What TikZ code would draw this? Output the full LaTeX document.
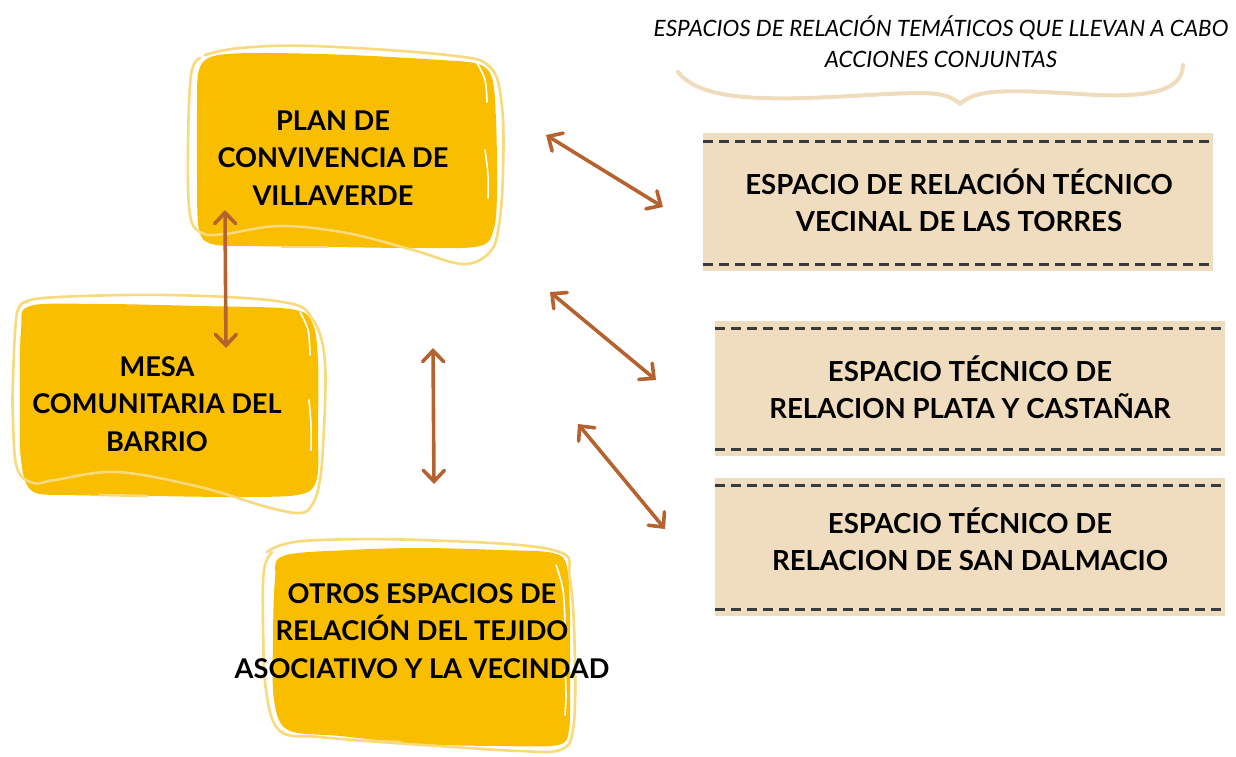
\documentclass[tikz,border=0pt]{standalone}
\usepackage{fontspec}
\setmainfont{Lato}
\usetikzlibrary{arrows.meta}
\definecolor{blobyellow}{HTML}{F9BE00}
\definecolor{blobline}{HTML}{F8DA7C}
\definecolor{beige}{HTML}{F0DDBF}
\definecolor{arrowbrown}{HTML}{B6622F}
\definecolor{dashgrey}{HTML}{3A3A3A}
\definecolor{bracecol}{HTML}{EEDCBD}
\tikzset{
  blobfill/.style={fill=blobyellow, draw=none},
  bloboutline/.style={draw=blobline, line width=2.6pt, line cap=round},
  blobhigh/.style={draw=white, line width=1.6pt, line cap=round},
  blobtext/.style={align=center, font=\fontsize{27.2}{37.5}\selectfont\bfseries, text=black, inner sep=0pt},
  beigebox/.style={fill=beige, draw=none, minimum width=510pt, inner sep=0pt},
  boxtext/.style={align=center, font=\fontsize{27.6}{37}\selectfont\bfseries, text=black, inner sep=0pt},
  dashline/.style={draw=dashgrey, line width=3pt, dash pattern=on 10pt off 6pt},
  dblarrow/.style={draw=arrowbrown, line width=3.6pt, line cap=round,
    {Straight Barb[length=11pt,width=21pt,line cap=round]}-{Straight Barb[length=11pt,width=21pt,line cap=round]}},
  titletext/.style={align=center, font=\fontsize{22.5}{31}\selectfont\itshape, text=black, inner sep=0pt},
}
\begin{document}
\begin{tikzpicture}[x=1pt,y=-1pt]
\useasboundingbox[fill=white] (0,0) rectangle (1236,756);

% ---------- title and brace ----------
\node[titletext] (title) at (941,41.5) {ESPACIOS DE RELACIÓN TEMÁTICOS QUE LLEVAN A CABO\\ACCIONES CONJUNTAS};
\draw[draw=bracecol, line width=4pt, line cap=round, line join=round]
  (678,72) .. controls (700,100) and (760,101) .. (850,96)
  .. controls (925,92) and (945,90) .. (960,104)
  .. controls (975,90) and (1000,89) .. (1080,94)
  .. controls (1165,100) and (1182,85) .. (1183,65);

% ---------- beige boxes ----------
\node[beigebox, minimum height=138pt] (b1) at (958,202) {};
\node[beigebox, minimum height=135pt] (b2) at (970,388) {};
\node[beigebox, minimum height=138pt] (b3) at (970,547) {};
\draw[dashline] ([yshift=-9pt]b1.north west) -- ([yshift=-9pt]b1.north east);
\draw[dashline] ([yshift=7pt]b1.south west) -- ([yshift=7pt]b1.south east);
\draw[dashline] ([yshift=-8pt]b2.north west) -- ([yshift=-8pt]b2.north east);
\draw[dashline] ([yshift=6pt]b2.south west) -- ([yshift=6pt]b2.south east);
\draw[dashline] ([yshift=-8pt]b3.north west) -- ([yshift=-8pt]b3.north east);
\draw[dashline] ([yshift=7pt]b3.south west) -- ([yshift=7pt]b3.south east);
\node[boxtext] (t1) at (959,200) {ESPACIO DE RELACIÓN TÉCNICO\\VECINAL DE LAS TORRES};
\node[boxtext] (t2) at (970,387) {ESPACIO TÉCNICO DE\\RELACION PLATA Y CASTAÑAR};
\node[boxtext] (t3) at (970,539.5) {ESPACIO TÉCNICO DE\\RELACION DE SAN DALMACIO};

% ---------- yellow blob 1 ----------
\fill[blobfill] plot[smooth cycle, tension=0.55] coordinates {
  (214,56) (260,53) (350,55) (440,60) (478,64) (492,78) (496,120) (497,190)
  (494,228) (480,246) (420,248) (330,247) (250,246) (212,244) (199,230)
  (197,180) (197,110) (199,70)};
\draw[bloboutline] plot[smooth, tension=0.6] coordinates {
  (205,55) (240,48) (313,46) (447,55) (490,67) (502,107) (503,173) (499,225)
  (490,252) (463,264) (413,250) (347,233) (280,226) (225,234) (202,233)
  (190,215) (188,150) (191,75) (200,58)};
\draw[bloboutline] (282,247) -- (327,247);
\draw[blobhigh] plot[smooth, tension=0.6] coordinates {(477,63) (485,80) (487,102)};
\draw[blobhigh] plot[smooth, tension=0.6] coordinates {(485,150) (488,175) (488,198)};

% ---------- yellow blob 2 ----------
\fill[blobfill] plot[smooth cycle, tension=0.55] coordinates {
  (30,306) (100,304) (200,306) (290,309) (312,322) (318,360) (318,430)
  (317,478) (302,494) (250,497) (150,496) (70,495) (32,491) (21,460)
  (20,400) (21,330)};
\draw[bloboutline] plot[smooth, tension=0.6] coordinates {
  (20,307) (43,298) (167,295) (283,302) (313,320) (325,363) (323,447)
  (319,485) (312,505) (300,513) (267,507) (200,487) (117,472) (55,480)
  (33,483) (17,468) (13,420) (13,380) (17,313) (28,302)};
\draw[bloboutline] (100,495) -- (147,496);
\draw[blobhigh] plot[smooth, tension=0.6] coordinates {(300,312) (308,330) (310,355)};
\draw[blobhigh] plot[smooth, tension=0.6] coordinates {(309,400) (311,425) (311,450)};

% ---------- yellow blob 3 ----------
\fill[blobfill] plot[smooth cycle, tension=0.55] coordinates {
  (283,556) (350,550) (420,548) (500,550) (553,553) (567,567) (570,620)
  (570,690) (569,730) (558,745) (500,746) (420,744) (340,736) (288,730)
  (274,700) (273,640) (275,580)};
\draw[bloboutline] plot[smooth, tension=0.6] coordinates {
  (267,552) (303,541) (420,540) (553,550) (570,580) (575,663) (573,730)
  (560,750) (520,751) (453,747) (380,742) (320,737) (280,731) (266,690)
  (263,620) (264,570) (272,552)};
\draw[bloboutline] (350,740) -- (400,742);
\draw[blobhigh] plot[smooth, tension=0.6] coordinates {(556,565) (563,590) (565,625)};
\draw[blobhigh] plot[smooth, tension=0.6] coordinates {(565,670) (566,695) (565,715)};

% ---------- blob texts ----------
\node[blobtext] (plan) at (333,158) {PLAN DE\\CONVIVENCIA DE\\VILLAVERDE};
\node[blobtext] (mesa) at (157,404) {MESA\\COMUNITARIA DEL\\BARRIO};
\node[blobtext] (otros) at (422,631) {OTROS ESPACIOS DE\\RELACIÓN DEL TEJIDO\\ASOCIATIVO Y LA VECINDAD};

% ---------- arrows ----------
\coordinate (a1s) at (546,135);
\coordinate (a1e) at (663,207);
\coordinate (a2s) at (550,292);
\coordinate (a2e) at (656,380);
\coordinate (a3s) at (578,424);
\coordinate (a3e) at (665,529);
\coordinate (a4s) at (433,348);
\coordinate (a4e) at (434,484);
\coordinate (a5s) at (225,210);
\coordinate (a5e) at (226,348);
\draw[dblarrow] (a1s) -- (a1e);
\draw[dblarrow] (a2s) -- (a2e);
\draw[dblarrow] (a3s) -- (a3e);
\draw[dblarrow] (a4s) -- (a4e);
\draw[dblarrow] (a5s) -- (a5e);
\end{tikzpicture}
\end{document}
